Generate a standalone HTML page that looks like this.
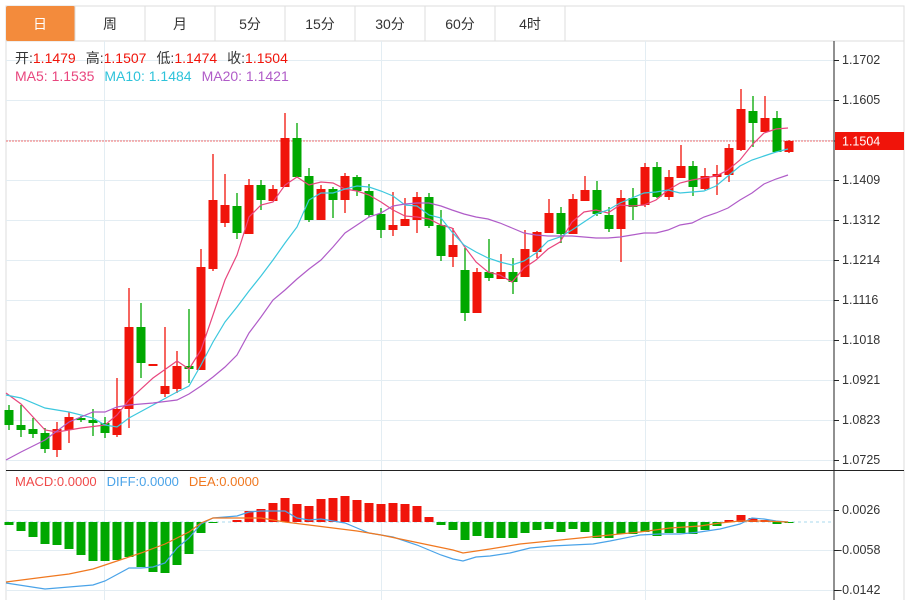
<!DOCTYPE html>
<html><head><meta charset="utf-8"><style>
body{margin:0;background:#fff;width:909px;height:600px;overflow:hidden;font-family:"Liberation Sans","Noto Sans CJK SC",sans-serif}
svg{position:absolute;left:0;top:0}
</style></head><body>
<svg id="s" width="909" height="600" xmlns="http://www.w3.org/2000/svg" font-family="Liberation Sans, Noto Sans CJK SC, sans-serif">
<rect x="0" y="0" width="909" height="600" fill="#fff"/>
<rect x="6" y="6" width="898" height="35" fill="#fff" stroke="#ddd"/>
<rect x="6" y="6" width="69" height="35" rx="2" fill="#f38b3c"/>
<g stroke="#ddd"><line x1="145" y1="6" x2="145" y2="41"/><line x1="215" y1="6" x2="215" y2="41"/><line x1="285" y1="6" x2="285" y2="41"/><line x1="355" y1="6" x2="355" y2="41"/><line x1="425" y1="6" x2="425" y2="41"/><line x1="495" y1="6" x2="495" y2="41"/><line x1="565" y1="6" x2="565" y2="41"/><line x1="75" y1="6" x2="75" y2="41"/></g>
<g font-size="14" text-anchor="middle" fill="#333">
<text x="40" y="29" fill="#fff">日</text><text x="110" y="29">周</text><text x="180" y="29">月</text><text x="250" y="29">5分</text><text x="320" y="29">15分</text><text x="390" y="29">30分</text><text x="460" y="29">60分</text><text x="530" y="29">4时</text></g>
<g stroke="#ddd"><line x1="6" y1="41" x2="6" y2="600"/><line x1="904" y1="41" x2="904" y2="600"/></g>
<g id="grid" stroke="#e3edf3" stroke-width="1"></g>
<line x1="834" y1="41" x2="834" y2="600" stroke="#222"/>
<line x1="6" y1="470.5" x2="904" y2="470.5" stroke="#222"/>
<g id="ticks" stroke="#222"></g>
<g font-size="12.5" fill="#333">
<text x="842" y="64">1.1702</text><text x="842" y="104">1.1605</text><text x="842" y="184">1.1409</text><text x="842" y="224">1.1312</text><text x="842" y="264">1.1214</text><text x="842" y="304">1.1116</text><text x="842" y="344">1.1018</text><text x="842" y="384">1.0921</text><text x="842" y="424">1.0823</text><text x="842" y="464">1.0725</text>
<text x="842" y="514">0.0026</text><text x="838" y="554">-0.0058</text><text x="838" y="594">-0.0142</text></g>
<line x1="6" y1="141" x2="834" y2="141" stroke="#f07070" stroke-dasharray="2,1"/>
<rect x="835" y="132" width="69" height="18" fill="#f0140a"/>
<text x="842" y="145.5" font-size="12.5" fill="#fff">1.1504</text>
<line x1="6" y1="522" x2="834" y2="522" stroke="#a8d8ee" stroke-dasharray="3,3"/>
<g id="c"></g>
<g>
<text x="15" y="63" font-size="14" fill="#333">开:<tspan fill="#f0140a">1.1479</tspan><tspan dx="10">高:</tspan><tspan fill="#f0140a">1.1507</tspan><tspan dx="10">低:</tspan><tspan fill="#f0140a">1.1474</tspan><tspan dx="10">收:</tspan><tspan fill="#f0140a">1.1504</tspan></text>
<text x="15" y="81" font-size="14" fill="#e8467e">MA5: 1.1535<tspan dx="10" fill="#2ec3da">MA10: 1.1484</tspan><tspan dx="10" fill="#b05cc8">MA20: 1.1421</tspan></text>
<text x="15" y="486" font-size="13" fill="#f04a4a">MACD:0.0000<tspan dx="10" fill="#4aa3e8">DIFF:0.0000</tspan><tspan dx="10" fill="#f07820">DEA:0.0000</tspan></text>
</g>
</svg>
<script>
var NS="http://www.w3.org/2000/svg";
function el(p,t,a){var e=document.createElementNS(NS,t);for(var k in a)e.setAttribute(k,a[k]);p.appendChild(e);return e;}
var g=document.getElementById('grid'),tk=document.getElementById('ticks'),c=document.getElementById('c');
[60,100,140,180,220,260,300,340,380,420,460,510,550,590].forEach(function(y){el(g,'line',{x1:6,x2:834,y1:y+.5,y2:y+.5});if(y!=140)el(tk,'line',{x1:834,x2:839,y1:y+.5,y2:y+.5});});
el(tk,'line',{x1:834,x2:839,y1:141,y2:141});
[104,381,645].forEach(function(x){el(g,'line',{x1:x+.5,x2:x+.5,y1:41,y2:600});});
var C=[[0,410,425,405,430],[0,425,430,405,437],[0,429,434,418,438],[0,433,449,428,453],[1,429,450,422,457],[1,417,430,412,443],[0,418,420,416,422],[0,420,423,409,436],[0,423,433,417,438],[1,409,435,378,437],[1,327,409,288,428],[0,327,363,303,378],[1,364,366,364,366],[1,386,394,327,397],[1,366,389,351,393],[0,366,369,309,383],[1,267,370,249,370],[1,200,269,154,271],[1,205,223,174,227],[0,206,233,193,239],[1,185,234,179,234],[0,185,200,180,210],[1,189,201,185,201],[1,138,187,113,187],[0,138,177,123,177],[0,176,220,168,222],[1,189,220,185,220],[0,189,200,187,218],[1,176,200,173,213],[0,177,191,175,196],[0,191,215,184,217],[0,214,230,208,238],[1,225,230,192,236],[1,219,226,198,226],[1,197,220,192,233],[0,197,226,193,228],[0,225,256,210,261],[1,245,257,228,267],[0,270,313,248,321],[1,272,313,268,313],[0,272,278,239,281],[1,272,279,254,279],[0,272,282,258,294],[1,249,277,230,277],[1,232,252,231,258],[1,213,233,199,233],[0,213,234,207,243],[1,199,234,194,234],[1,190,201,176,201],[0,190,214,181,216],[0,215,229,207,232],[1,198,229,190,262],[0,198,207,188,220],[1,167,205,163,207],[0,167,197,162,198],[1,177,197,170,200],[1,166,178,145,178],[0,166,187,161,196],[1,176,189,168,190],[1,174,177,165,195],[1,148,175,144,182],[1,109,150,89,151],[0,111,123,96,147],[1,118,132,96,132],[0,118,152,111,152],[1,141,152,140,153]];
var M=[-3,-9,-15,-22,-23,-27,-33,-39,-39,-38,-35,-45,-50,-51,-43,-32,-11,-1,0,2,11,13,19,24,18,16,23,24,26,22,19,18,19,18,16,5,-3,-8,-18,-14,-16,-16,-16,-11,-8,-7,-10,-7,-10,-16,-16,-12,-12,-10,-14,-11,-11,-12,-8,-4,2,7,4,2,-2,-1];
C.forEach(function(d,i){var x=9+12*i,col=d[0]?'#f0140a':'#00a800';
el(c,'line',{x1:x,x2:x,y1:d[3],y2:d[4],stroke:col,'stroke-width':1.3});
el(c,'rect',{x:x-4.5,y:d[1],width:9,height:Math.max(d[2]-d[1],1.5),fill:col});
var m=M[i];if(m){var mc=m>0?'#f0140a':'#00a800';el(c,'rect',{x:x-4.5,y:m>0?522-m:522,width:9,height:Math.abs(m),fill:mc});}
});
function line(pts,col){el(c,'polyline',{points:pts,fill:'none',stroke:col,'stroke-width':1.2});}
line("6,393 21,404 45,430 57,432 81,428 105,425 117,415 129,400 153,378 177,361 189,369 201,350 213,315 225,280 237,255 249,217 261,205 273,202 285,185 297,177 309,185 321,182 333,183 345,189 357,191 369,195 381,202 393,210 405,216 417,217 429,219 441,225 452,228 464,246 476,262 488,272 500,275 512,282 524,268 536,260 548,249 560,242 572,222 584,212 596,210 608,213 620,205 632,206 644,205 656,200 668,190 680,183 692,180 704,178 716,176 728,170 740,160 752,145 764,133 776,129 788,128","#e8467e");
line("6,395 21,398 45,408 69,412 93,418 105,425 117,427 129,418 153,405 177,392 189,386 201,365 213,342 225,322 237,307 249,291 261,276 273,260 285,243 297,227 309,200 321,193 333,193 345,189 357,186 369,187 381,191 393,196 405,205 417,206 429,215 441,218 452,232 464,245 476,252 488,258 500,262 512,265 524,261 536,253 548,241 560,237 572,230 584,222 596,214 608,210 620,203 632,198 644,193 656,192 668,190 680,193 692,192 704,191 716,186 728,176 740,166 752,160 764,156 776,152 788,149","#3cc8de");
line("6,460 21,452 45,440 69,422 93,412 105,412 117,407 129,405 153,403 177,400 189,394 201,386 213,377 225,367 237,355 249,333 261,317 273,300 285,290 297,279 309,269 321,260 333,247 345,233 357,225 369,217 381,213 393,206 405,204 417,203 429,203 441,206 452,210 464,214 476,217 488,219 500,223 512,228 524,233 536,235 548,236 560,236 572,236 584,237 596,238 608,238 620,237 632,235 644,233 656,233 668,230 680,225 692,223 704,217 716,213 728,208 740,200 752,193 764,184 776,179 788,175","#b05cc8");
line("6,583 45,589 69,587 93,585 105,581 129,568 141,568 153,567 165,563 177,548 189,538 201,524 213,518 237,516 249,512 261,511 285,511 297,518 309,520 321,519 345,523 357,528 369,533 393,537 417,545 441,555 453,559 463,561 476,557 490,556 510,553 530,548 552,546 572,545 593,544 610,541 640,535 660,534 680,534 700,532 720,529 740,524 752,518 764,519 776,521 788,522","#4aa3e8");
line("6,582 45,577 69,574 93,569 117,561 141,553 165,544 189,532 201,523 213,518 237,518 261,518 285,522 309,525 333,528 357,531 381,535 405,540 429,545 453,550 463,553 490,549 520,544 550,541 580,538 610,535 640,532 670,528 700,526 720,523 740,521 764,521 788,522","#f07820");
</script>
</body></html>
